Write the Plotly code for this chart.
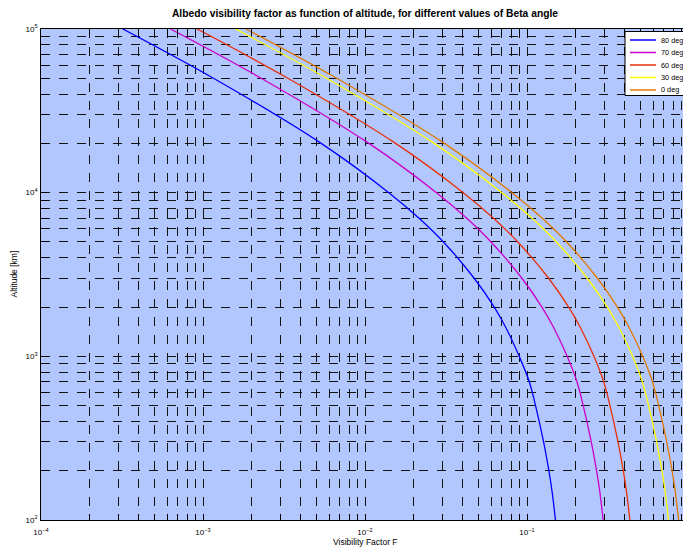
import plotly.graph_objects as go

# Altitude [km] at which values were read
altitude_km = [100, 150, 200, 300, 500, 700, 1000, 1500, 2000, 3000,
               5000, 7000, 10000, 20000, 50000, 100000]

# Visibility factor F for each Beta angle
F_80deg = [0.1499, 0.1427, 0.1365, 0.1266, 0.1129, 0.1033, 0.0895, 0.0740,
           0.0628, 0.0472, 0.03048, 0.02148, 0.01403, 0.005366, 0.00116, 0.00032]
F_70deg = [0.2951, 0.2811, 0.2688, 0.2493, 0.2224, 0.2034, 0.1770, 0.1460,
           0.1236, 0.0930, 0.0600, 0.0423, 0.02763, 0.01057, 0.002286, 0.00063]
F_60deg = [0.4315, 0.4110, 0.3930, 0.3645, 0.3252, 0.2974, 0.2590, 0.2135,
           0.1808, 0.1360, 0.0878, 0.0619, 0.0404, 0.01545, 0.00334, 0.00092]
F_30deg = [0.7474, 0.7118, 0.6807, 0.6312, 0.5632, 0.5150, 0.4485, 0.3700,
           0.3130, 0.2355, 0.1520, 0.1071, 0.06996, 0.02676, 0.005787, 0.001594]
F_0deg = [0.8630, 0.8219, 0.7860, 0.7289, 0.6503, 0.5947, 0.5180, 0.4270,
          0.3615, 0.2720, 0.1755, 0.1237, 0.08079, 0.03090, 0.006683, 0.001841]

series_names = ["80 deg", "70 deg", "60 deg", "30 deg", "0 deg"]
series_values = [F_80deg, F_70deg, F_60deg, F_30deg, F_0deg]
series_colors = ["#0000ff", "#cc00cc", "#e8300c", "#ffff00", "#e07a00"]

FONT = "Liberation Sans, Arial, sans-serif"

# page body has an 8px margin -> figure is 8px smaller than the window
W, H = 683, 540
ML, MR, MT, MB = 33, 2, 21, 28
PW, PH = W - ML - MR, H - MT - MB


def px_x(x):
    return (x - ML) / PW


def px_y(y):
    return 1 - (y - MT) / PH


fig = go.Figure()
for name, vals, col in zip(series_names, series_values, series_colors):
    fig.add_trace(go.Scatter(
        x=vals, y=altitude_km, mode="lines", name=name, showlegend=False,
        line=dict(color=col, width=1.3, shape="spline", smoothing=1.0),
    ))

axis_common = dict(
    type="log", showline=True, linecolor="black", linewidth=1.3, mirror="allticks",
    ticks="inside", ticklen=6, tickcolor="black", tickwidth=1,
    showgrid=True, gridcolor="#111", gridwidth=1, griddash="9px,9px",
    exponentformat="power", dtick=1,
    tickfont=dict(family=FONT, size=6.4, color="black"),
    minor=dict(dtick="D1", ticks="inside", ticklen=6, tickcolor="black",
               showgrid=True, gridcolor="#111", gridwidth=1, griddash="9px,9px"),
    zeroline=False,
)

fig.update_xaxes(range=[-4, 0], ticklabelstandoff=5, **axis_common)
fig.update_yaxes(range=[2, 5], ticklabelstandoff=1, **axis_common)

annotations = [
    dict(text="Visibility Factor F", xref="paper", yref="paper",
         x=0.5, y=px_y(534), xanchor="center", yanchor="middle", showarrow=False,
         font=dict(family=FONT, size=8.5, color="black")),
    dict(text="Altitude [km]", xref="paper", yref="paper", textangle=-90,
         x=px_x(5), y=0.5, xanchor="center", yanchor="middle", showarrow=False,
         font=dict(family=FONT, size=8.5, color="black")),
]

# legend box (drawn like the MATLAB legend)
shapes = [dict(type="rect", xref="paper", yref="paper", layer="above",
               x0=px_x(617), x1=px_x(680.5), y0=px_y(87.5), y1=px_y(23.5),
               fillcolor="white", line=dict(color="black", width=1))]
entry_y = [32, 44.5, 57, 69.5, 82]
for name, col, ey in zip(series_names, series_colors, entry_y):
    shapes.append(dict(type="line", xref="paper", yref="paper", layer="above",
                       x0=px_x(622), x1=px_x(648), y0=px_y(ey), y1=px_y(ey),
                       line=dict(color=col, width=1.5)))
    annotations.append(dict(text=name, xref="paper", yref="paper",
                            x=px_x(651), y=px_y(ey), xanchor="left", yanchor="middle",
                            showarrow=False,
                            font=dict(family=FONT, size=7.3, color="black")))

fig.update_layout(
    width=W, height=H,
    margin=dict(l=ML, r=MR, t=MT, b=MB, autoexpand=False),
    paper_bgcolor="white", plot_bgcolor="rgb(179,199,255)",
    title=dict(text="<b>Albedo visibility factor as function of altitude, for different values of Beta angle</b>",
               x=0.5, xref="paper", y=1 - 5 / H, yanchor="middle",
               font=dict(family=FONT, size=10.3, color="black")),
    annotations=annotations,
    shapes=shapes,
    showlegend=False,
)

fig.write_html("out.html")
